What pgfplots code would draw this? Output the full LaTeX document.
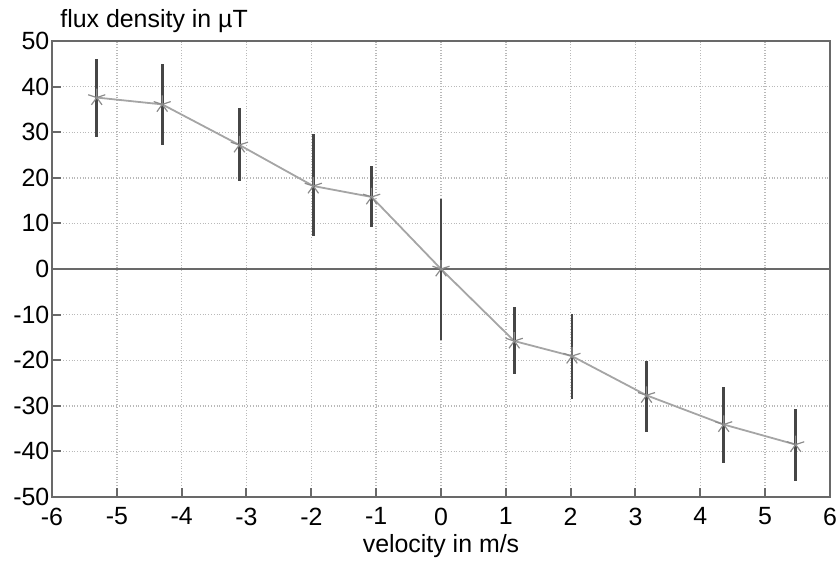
\documentclass[border=0pt]{standalone}
\usepackage{pgfplots}
\pgfplotsset{compat=1.18}
\usepackage{pgfplotstable}
\usepackage{fontspec}
\setmainfont{Liberation Sans}
\definecolor{framec}{RGB}{105,105,105}
\definecolor{errc}{RGB}{70,70,70}
\definecolor{linec}{RGB}{165,165,165}
\definecolor{gridc}{RGB}{185,185,185}
\pgfplotstableread{
x y ep em
-5.31 37.6 8.4 8.6
-4.30 36.1 8.8 8.9
-3.11 27.2 8.2 7.9
-1.97 18.2 11.3 11.0
-1.07 15.8 6.8 6.6
0.00 0.0 15.3 15.6
1.13 -15.8 7.5 7.2
2.02 -19.1 9.2 9.3
3.17 -27.7 7.5 8.0
4.36 -34.1 8.2 8.4
5.47 -38.5 7.9 8.0
}\datatable
\begin{document}
\fontsize{12.5}{15}\selectfont
\begin{tikzpicture}
\begin{axis}[
  name=ax,
  scale only axis,
  width=389bp, height=228bp,
  xmin=-6, xmax=6, ymin=-50, ymax=50,
  xtick={-6,-5,...,6},
  ytick={-50,-40,...,50},
  /pgf/number format/assume math mode=true,
  tick label style={font=\fontsize{12.5}{15}\selectfont},
  xticklabel style={yshift=-1bp},
  yticklabel style={xshift=3bp},
  axis line style={color=framec, line width=1bp},
  tick style={color=framec, line width=1bp},
  tick align=inside,
  xtick pos=bottom, ytick pos=left,
  major tick length=4.5bp,
  grid=major,
  major grid style={densely dotted, color=gridc, line width=0.7bp},
  clip=false,
]
\addplot[color=framec, line width=1bp, forget plot] coordinates {(-6,0) (6,0)};
\addplot[color=linec, line width=0.9bp, mark=star, mark size=4.5bp,
  mark options={color=linec!85!black, line width=0.6bp}]
  table[x=x, y=y] {\datatable};
\addplot[draw=none, mark=none,
  error bars/.cd, y dir=both, y explicit, error mark=none,
  error bar style={color=errc, line width=1.4bp}]
  table[x=x, y=y, y error plus=ep, y error minus=em] {\datatable};
\node[anchor=base west, inner sep=0pt] at ([shift={(4bp,7bp)}]rel axis cs:0,1) {flux density in µT};
\node[anchor=base, inner sep=0pt] at ([yshift=-27.5bp]rel axis cs:0.5,0) {velocity in m/s};
\end{axis}
\pgfresetboundingbox
\path ([shift={(-26bp,-32bp)}]ax.south west) rectangle ([shift={(3.5bp,20.5bp)}]ax.north east);
\end{tikzpicture}
\end{document}
